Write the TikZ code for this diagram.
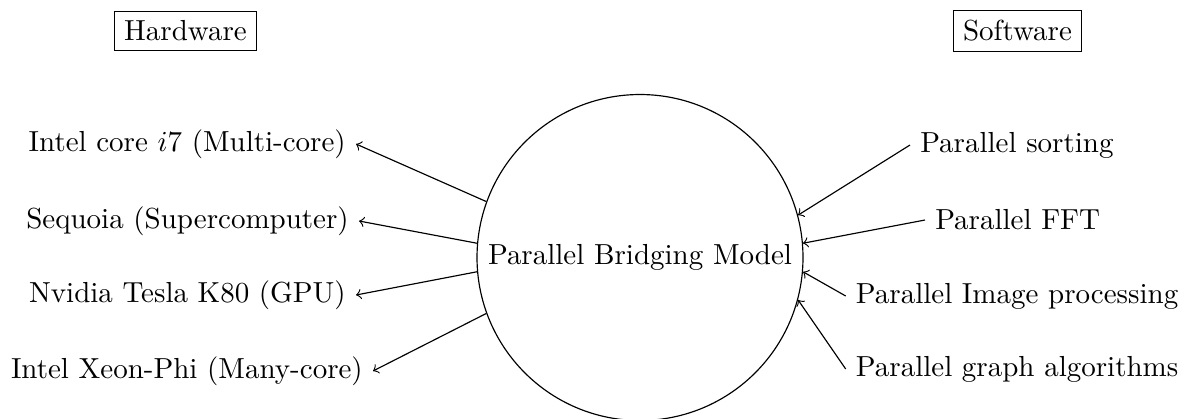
\documentclass[tikz,border=0pt]{standalone}
\begin{document}
\begin{tikzpicture}[x=0.3448pt,y=-0.3448pt,
  lbl/.style={inner sep=3.333pt},
  boxlbl/.style={draw,inner sep=3.333pt,line width=0.4pt},
  bigcirc/.style={draw,circle,minimum size=112.4pt,inner sep=0pt,line width=0.4pt},
  conn/.style={->,line width=0.4pt}]
\useasboundingbox (0,0) rectangle (1184,418);
\node[boxlbl] (hw) at (185.5,31) {Hardware};
\node[boxlbl] (sw) at (1017.5,31) {Software};
\node[bigcirc] (c) at (640,257.5) {Parallel Bridging Model};
% hardware
\node[lbl,anchor=east] (h1) at (356,144) {Intel core $i7$ (Multi-core)};
\node[lbl,anchor=east] (h2) at (359,221) {Sequoia (Supercomputer)};
\node[lbl,anchor=east] (h3) at (356,295) {Nvidia Tesla K80 (GPU)};
\node[lbl,anchor=east] (h4) at (373,371) {Intel Xeon-Phi (Many-core)};
% software
\node[lbl,anchor=west] (s1) at (910,145) {Parallel sorting};
\node[lbl,anchor=west] (s2) at (925,220) {Parallel FFT};
\node[lbl,anchor=west] (s3) at (845.7,296) {Parallel Image processing};
\node[lbl,anchor=west] (s4) at (845.7,369) {Parallel graph algorithms};
\draw[conn] (c.160) -- (h1.east);
\draw[conn] (c.175) -- (h2.east);
\draw[conn] (c.185) -- (h3.east);
\draw[conn] (c.200) -- (h4.east);
\draw[conn] (s1.west) -- (c.15);
\draw[conn] (s2.west) -- (c.5);
\draw[conn] (s3.west) -- (c.-5);
\draw[conn] (s4.west) -- (c.-15);
\end{tikzpicture}
\end{document}
